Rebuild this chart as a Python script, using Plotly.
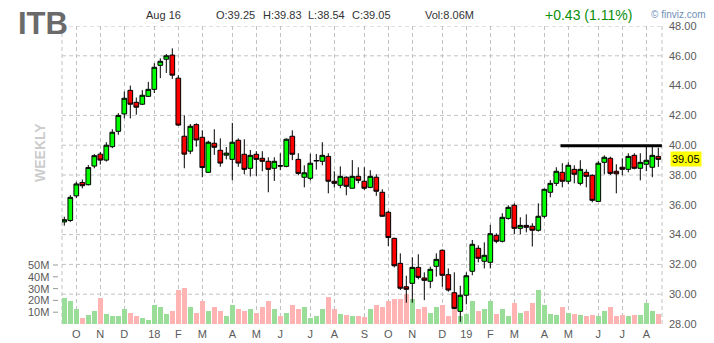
import plotly.graph_objects as go
import pandas as pd

# ---------------- data ----------------
weeks = pd.date_range("2017-09-18", periods=100, freq="W-MON")

opens = [34.85, 34.95, 36.6, 37.5, 37.35, 38.6, 39.4, 39.0, 39.9, 40.93,
         42.1, 43.68, 42.88, 42.75, 43.28, 43.75, 45.36, 45.77, 46.05, 44.5,
         40.6, 39.6, 41.38, 40.53, 38.18, 40.13, 39.66, 39.33, 39.05, 40.33,
         39.39, 38.45, 39.39, 39.12, 38.92, 38.45, 38.63, 38.58, 40.6, 39.05,
         37.85, 37.78, 38.94, 38.92, 39.25, 37.58, 37.31, 37.85, 37.11, 37.91,
         37.58, 37.17, 37.85, 36.84, 35.5, 33.75, 32.07, 30.5, 30.73, 31.8,
         31.09, 30.87, 31.87, 32.95, 31.31, 30.1, 28.85, 29.93, 31.54, 33.08,
         32.21, 32.14, 33.95, 33.55, 35.09, 35.97, 34.42, 34.62, 34.56, 34.29,
         35.23, 36.84, 37.44, 38.18, 37.58, 38.38, 37.44, 38.18, 37.98, 36.23,
         38.85, 39.12, 38.25, 38.52, 38.38, 39.32, 38.45, 38.72, 38.52, 39.25]
highs = [35.2, 36.65, 37.55, 37.7, 38.67, 39.4, 39.55, 40.2, 41.07, 42.15,
         43.6, 44.0, 43.2, 43.7, 44.25, 45.5, 45.83, 46.12, 46.5, 44.7,
         42.0, 41.42, 41.47, 41.0, 40.3, 41.07, 40.46, 39.88, 41.5, 40.46,
         40.4, 39.68, 39.6, 39.6, 39.19, 39.19, 39.46, 40.46, 41.0, 39.46,
         38.65, 39.43, 39.41, 40.2, 39.46, 38.25, 38.58, 37.91, 39.0, 38.52,
         38.52, 38.32, 38.05, 37.04, 35.6, 33.79, 32.74, 31.24, 32.47, 32.68,
         31.47, 31.85, 32.74, 33.01, 31.73, 31.47, 30.57, 31.47, 33.64, 33.28,
         33.48, 34.66, 34.09, 35.43, 35.97, 36.1, 35.16, 35.36, 34.76, 36.1,
         37.1, 37.66, 38.52, 38.79, 38.85, 38.65, 38.99, 38.38, 38.05, 38.92,
         39.32, 39.23, 38.72, 39.12, 39.46, 39.46, 39.46, 39.99, 39.99, 39.83]
lows = [34.6, 34.85, 36.45, 37.1, 37.3, 38.45, 38.7, 38.9, 39.8, 40.7,
        41.8, 41.8, 42.05, 42.7, 43.25, 43.5, 44.5, 44.85, 44.45, 41.3,
        38.45, 39.4, 39.9, 37.85, 38.15, 39.35, 38.56, 39.05, 37.65, 38.55,
        38.05, 37.9, 37.93, 38.25, 36.84, 37.6, 38.32, 38.52, 39.0, 37.98,
        37.17, 37.64, 38.36, 38.65, 36.77, 37.17, 37.11, 36.64, 37.1, 37.44,
        37.0, 37.11, 36.6, 35.2, 33.23, 31.8, 30.28, 29.43, 29.43, 31.0,
        29.6, 30.4, 31.18, 30.5, 30.17, 29.0, 28.15, 29.32, 31.27, 32.14,
        31.73, 31.73, 33.42, 33.48, 35.0, 34.02, 34.02, 34.15, 33.2, 34.2,
        35.1, 36.5, 37.26, 37.17, 37.38, 37.44, 37.3, 37.17, 36.17, 36.2,
        38.05, 38.0, 36.77, 37.98, 38.18, 38.38, 37.64, 38.25, 37.85, 38.54]
closes = [35.0, 36.5, 37.4, 37.28, 38.5, 39.3, 39.0, 40.0, 40.87, 42.0,
          43.15, 42.75, 42.55, 43.35, 43.75, 45.23, 45.63, 46.0, 44.7, 41.35,
          39.4, 41.27, 40.35, 38.5, 40.2, 39.86, 38.8, 39.47, 40.2, 38.8,
          38.38, 39.32, 39.05, 38.92, 38.38, 38.92, 38.6, 40.4, 39.39, 38.11,
          38.15, 38.79, 38.97, 39.32, 37.58, 37.44, 37.91, 37.24, 37.91, 37.64,
          37.11, 37.91, 36.91, 35.23, 33.8, 31.91, 30.4, 30.33, 31.8, 31.13,
          30.93, 31.67, 32.34, 31.27, 30.28, 29.05, 29.93, 31.24, 33.35, 32.41,
          32.61, 34.06, 33.55, 35.16, 35.83, 34.42, 34.62, 34.49, 34.29, 35.23,
          37.04, 37.44, 38.25, 37.58, 38.65, 38.05, 38.38, 37.91, 36.3, 38.79,
          39.19, 38.11, 38.08, 38.38, 39.25, 38.45, 38.85, 38.99, 39.32, 39.05]
volumes_m = [21.9, 19.3, 12.3, 4.7, 8.0, 11.4, 21.9, 8.9, 7.2, 6.4,
             12.3, 9.7, 6.4, 4.7, 3.8, 15.7, 14.0, 8.9, 11.4, 29.2,
             30.1, 14.8, 9.7, 19.9, 11.4, 14.0, 10.6, 6.4, 16.5, 13.1,
             10.6, 12.3, 9.7, 14.0, 19.9, 13.1, 7.2, 9.7, 16.5, 12.3,
             14.8, 5.5, 7.2, 13.1, 22.5, 12.3, 8.9, 8.0, 7.2, 6.4,
             5.8, 12.3, 15.7, 14.8, 19.1, 20.8, 20.8, 25.8, 21.6, 13.1,
             14.0, 9.7, 14.8, 15.7, 7.2, 14.0, 6.4, 8.9, 19.1, 10.6,
             12.3, 19.1, 8.9, 13.1, 7.2, 17.4, 9.7, 10.6, 17.4, 28.4,
             15.7, 8.9, 8.0, 14.0, 9.7, 8.9, 8.0, 7.2, 8.0, 7.2,
             11.4, 14.0, 7.2, 8.0, 7.2, 8.0, 8.0, 18.2, 11.4, 8.06]

month_labels = ["O", "N", "D", "18", "F", "M", "A", "M", "J", "J", "A", "S",
                "O", "N", "D", "19", "F", "M", "A", "M", "J", "J", "A"]
price_ticks = [28, 30, 32, 34, 36, 38, 40, 42, 44, 46, 48]
price_grid = [30, 32, 34, 36, 38, 40, 42, 46, 48]
vol_ticks = [10, 20, 30, 40, 50]
vol_labels = ["10M", "20M", "30M", "40M", "50M"]
trend_week = [82.7, 99.6]
trend_price = [39.97, 39.97]
last_close = 39.05

# ---------------- derived ----------------
idx = list(range(len(weeks)))
tick_idx = []
prev = None
for i, d in enumerate(weeks):
    fri = d + pd.Timedelta(days=4)
    m = (fri.year, fri.month)
    if prev is not None and m != prev:
        tick_idx.append(i)
    prev = m

vol_colors = ["#99dd99" if c >= o else "#ffb3b3" for o, c in zip(opens, closes)]

# geometry helpers (pixels -> paper)
L, R, T, B = 62, 52, 26, 19
W, H = 714, 343
PW, PH = W - L - R, H - T - B


def px(x):
    return (x - L) / PW


def py(y):
    return (H - B - y) / PH


GRID = "#c2c2c2"
FONT = "Liberation Sans"

fig = go.Figure()
fig.add_trace(go.Bar(x=idx, y=volumes_m, marker=dict(color=vol_colors, line=dict(width=0)),
                     width=0.82, yaxis="y", hoverinfo="skip"))
fig.add_trace(go.Candlestick(
    x=idx, open=opens, high=highs, low=lows, close=closes, yaxis="y2",
    whiskerwidth=0,
    increasing=dict(fillcolor="#00ff00", line=dict(color="black", width=1)),
    decreasing=dict(fillcolor="#ff0000", line=dict(color="black", width=1)),
))
fig.add_trace(go.Scatter(x=trend_week, y=trend_price, yaxis="y2", mode="lines",
                         line=dict(color="black", width=3), hoverinfo="skip"))

shapes = []
for p in price_grid:
    shapes.append(dict(type="line", xref="paper", yref="y2", x0=0, x1=1, y0=p, y1=p,
                       line=dict(color=GRID, width=1, dash="4px,3px"), layer="below"))
for xp in (0, 1):
    shapes.append(dict(type="line", xref="paper", yref="paper", x0=xp, x1=xp, y0=0, y1=1,
                       line=dict(color=GRID, width=1, dash="4px,3px"), layer="below"))
for v in vol_ticks:
    shapes.append(dict(type="line", xref="paper", yref="y", x0=px(53), x1=px(58), y0=v, y1=v,
                       line=dict(color="#999999", width=1)))
fig.update_layout(shapes=shapes)

ann = []
ann.append(dict(text="<b>ITB</b>", x=px(43), y=py(23), xref="paper", yref="paper",
                xanchor="center", yanchor="middle", showarrow=False,
                font=dict(family=FONT, size=31, color="#6a6a6a")))
hdr = [("Aug 16", 144), ("O:39.25", 214), ("H:39.83", 261), ("L:38.54", 306),
       ("C:39.05", 350), ("Vol:8.06M", 423)]
for t, x in hdr:
    ann.append(dict(text=t, x=px(x), y=py(15), xref="paper", yref="paper",
                    xanchor="left", yanchor="middle", showarrow=False,
                    font=dict(family=FONT, size=11, color="#333333")))
ann.append(dict(text="+0.43 (1.11%)", x=px(543), y=py(15), xref="paper", yref="paper",
                xanchor="left", yanchor="middle", showarrow=False,
                font=dict(family=FONT, size=14, color="#0a8f0a")))
ann.append(dict(text="© finviz.com", x=px(649), y=py(14), xref="paper", yref="paper",
                xanchor="left", yanchor="middle", showarrow=False,
                font=dict(family=FONT, size=10, color="#6f8fb8")))
ann.append(dict(text="<b>WEEKLY</b>", x=px(40), y=py(153), xref="paper", yref="paper",
                xanchor="center", yanchor="middle", showarrow=False, textangle=-90,
                font=dict(family=FONT, size=14, color="#cccccc")))
for v, lab in zip(vol_ticks, vol_labels):
    ann.append(dict(text=lab, x=px(51), y=v, xref="paper", yref="y",
                    xanchor="right", yanchor="middle", showarrow=False,
                    font=dict(family=FONT, size=11, color="#5a5a5a")))
ann.append(dict(text="%.2f" % last_close, x=px(670), y=last_close, xref="paper", yref="y2",
                xanchor="left", yanchor="middle", showarrow=False, bgcolor="#ffff00",
                borderpad=1, font=dict(family=FONT, size=11, color="black")))
fig.update_layout(annotations=ann)

fig.update_layout(
    width=W, height=H, margin=dict(l=L, r=R, t=T, b=B, autoexpand=False),
    paper_bgcolor="white", plot_bgcolor="white", showlegend=False,
    boxgap=0.22, boxgroupgap=0, bargap=0,
    font=dict(family=FONT, size=11, color="#5a5a5a"),
    xaxis=dict(range=[-0.383, 99.617], tickmode="array", tickvals=tick_idx, ticktext=month_labels,
               showgrid=True, gridcolor=GRID, gridwidth=1, griddash="4px,3px",
               zeroline=False, showline=False, ticks="", rangeslider=dict(visible=False),
               automargin=False, ticklabelstandoff=2,
               tickfont=dict(family=FONT, size=11, color="#5a5a5a")),
    yaxis=dict(range=[0, PH / 1.18], showticklabels=False, showgrid=False, zeroline=False,
               showline=False, ticks="", automargin=False),
    yaxis2=dict(range=[28, 48], overlaying="y", side="right", tickmode="array",
                tickvals=price_ticks, ticktext=["%.2f" % p for p in price_ticks],
                showgrid=False, zeroline=False, showline=False, ticks="",
                ticklabelstandoff=6, automargin=False,
                tickfont=dict(family=FONT, size=11, color="#5a5a5a")),
)

fig.write_html("out.html")
